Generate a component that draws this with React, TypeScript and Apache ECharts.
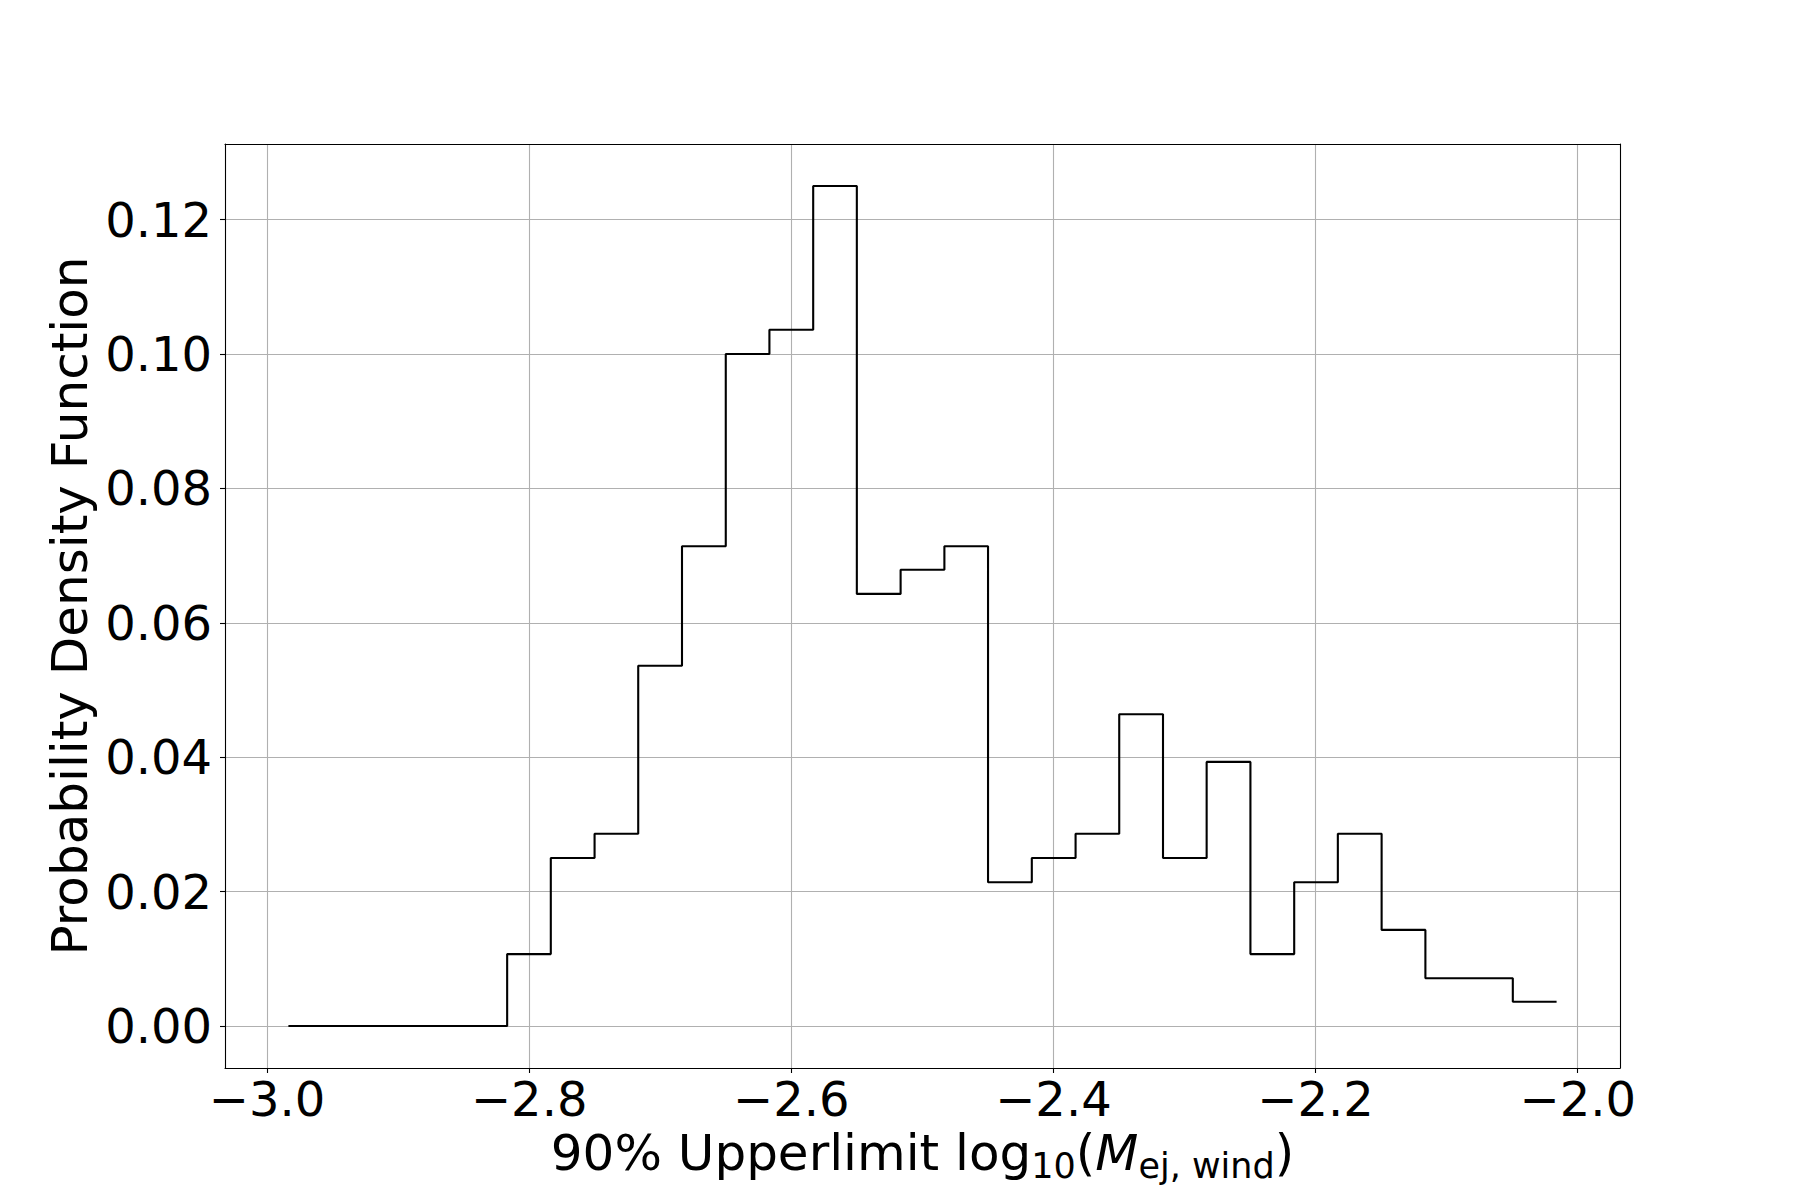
import React, { useEffect, useRef } from "react";
import * as echarts from "echarts";

// Histogram bin edges (29 bins)
const binEdges = [
  -2.9837, -2.9503, -2.9169, -2.8836, -2.8502, -2.8168, -2.7835, -2.7501,
  -2.7168, -2.6834, -2.65, -2.6167, -2.5833, -2.55, -2.5166, -2.4832,
  -2.4499, -2.4165, -2.3831, -2.3498, -2.3164, -2.2831, -2.2497, -2.2163,
  -2.183, -2.1496, -2.1162, -2.0829, -2.0495, -2.0161,
];

// Probability density per bin
const pdfValues = [
  0, 0, 0, 0, 0, 0.0107, 0.025, 0.0286, 0.0536, 0.0714, 0.1, 0.1036, 0.125,
  0.0643, 0.0679, 0.0714, 0.0214, 0.025, 0.0286, 0.0464, 0.025, 0.0393,
  0.0107, 0.0214, 0.0286, 0.0143, 0.0071, 0.0071, 0.0036,
];

const xTicks = [-3.0, -2.8, -2.6, -2.4, -2.2, -2.0];
const yTicks = [0, 0.02, 0.04, 0.06, 0.08, 0.1, 0.12];

const FONT = "DejaVu Sans";

export default function App() {
  const ref = useRef<HTMLDivElement>(null);

  useEffect(() => {
    if (!ref.current) return;
    const chart = echarts.init(ref.current, null, { renderer: "svg" });

    const stepPts: number[][] = [];
    for (let i = 0; i < pdfValues.length; i++) {
      stepPts.push([binEdges[i], pdfValues[i]]);
      stepPts.push([binEdges[i + 1], pdfValues[i]]);
    }

    const dMin = binEdges[0];
    const dMax = binEdges[binEdges.length - 1];
    const xPad = (dMax - dMin) * 0.05;
    const xMin = dMin - xPad;
    const xMax = dMax + xPad;
    const vMax = Math.max(...pdfValues);
    const yPad = vMax * 0.05;
    const yMin = -yPad;
    const yMax = vMax + yPad;

    const black = "#000000";
    const fmtX = (v: number) =>
      (v < 0 ? "\u2212" : "") + Math.abs(v).toFixed(1);

    chart.setOption({
      animation: false,
      backgroundColor: "#ffffff",
      grid: {
        left: 225,
        top: 144,
        width: 1395,
        height: 924,
        containLabel: false,
        show: false,
      },
      xAxis: [
        {
          type: "value",
          position: "bottom",
          min: xMin,
          max: xMax,
          splitNumber: 5,
          axisLine: {
            show: true,
            onZero: false,
            lineStyle: { color: black, width: 1.1 },
          },
          axisTick: {
            show: true,
            customValues: xTicks,
            inside: false,
            length: 5,
            lineStyle: { color: black, width: 1.1 },
          },
          axisLabel: {
            customValues: xTicks,
            formatter: fmtX,
            fontSize: 48,
            fontFamily: FONT,
            color: black,
            margin: 7,
          },
          splitLine: {
            show: true,
            lineStyle: { color: "#b0b0b0", width: 1.1 },
          },
          name: "{a|90% Upperlimit log}{s|10}{a|(}{i|M}{s|ej, wind}{a|)}",
          nameLocation: "middle",
          nameGap: 55,
          nameMoveOverlap: false,
          nameTextStyle: {
            color: black,
            fontFamily: FONT,
            fontSize: 50,
            rich: {
              a: {
                fontSize: 50,
                fontFamily: FONT,
                color: black,
                lineHeight: 60,
                verticalAlign: "middle",
              },
              i: {
                fontSize: 50,
                fontFamily: FONT,
                fontStyle: "italic",
                color: black,
                lineHeight: 60,
                verticalAlign: "middle",
              },
              s: {
                fontSize: 35,
                fontFamily: FONT,
                color: black,
                lineHeight: 34,
                verticalAlign: "bottom",
              },
            },
          },
        },
        {
          type: "value",
          position: "top",
          min: xMin,
          max: xMax,
          axisLine: {
            show: true,
            onZero: false,
            lineStyle: { color: black, width: 1.1 },
          },
          axisTick: { show: false },
          axisLabel: { show: false },
          splitLine: { show: false },
        },
      ],
      yAxis: [
        {
          type: "value",
          position: "left",
          min: yMin,
          max: yMax,
          splitNumber: 7,
          axisLine: {
            show: true,
            onZero: false,
            lineStyle: { color: black, width: 1.1 },
          },
          axisTick: {
            show: true,
            customValues: yTicks,
            inside: false,
            length: 5,
            lineStyle: { color: black, width: 1.1 },
          },
          axisLabel: {
            customValues: yTicks,
            formatter: (v: number) => v.toFixed(2),
            fontSize: 48,
            fontFamily: FONT,
            color: black,
            margin: 13,
          },
          splitLine: {
            show: true,
            lineStyle: { color: "#b0b0b0", width: 1.1 },
          },
          name: "Probability Density Function",
          nameLocation: "middle",
          nameRotate: 90,
          nameGap: 130,
          nameMoveOverlap: false,
          nameTextStyle: {
            color: black,
            fontFamily: FONT,
            fontSize: 50,
            lineHeight: 50,
          },
        },
        {
          type: "value",
          position: "right",
          min: yMin,
          max: yMax,
          axisLine: {
            show: true,
            onZero: false,
            lineStyle: { color: black, width: 1.1 },
          },
          axisTick: { show: false },
          axisLabel: { show: false },
          splitLine: { show: false },
        },
      ],
      series: [
        {
          type: "line",
          xAxisIndex: 0,
          yAxisIndex: 0,
          data: stepPts,
          showSymbol: false,
          symbol: "none",
          silent: true,
          lineStyle: { color: black, width: 2.1 },
          z: 5,
        },
      ],
    });

    return () => chart.dispose();
  }, []);

  return (
    <div
      ref={ref}
      style={{ position: "fixed", left: 0, top: 0, width: 1800, height: 1200 }}
    />
  );
}
